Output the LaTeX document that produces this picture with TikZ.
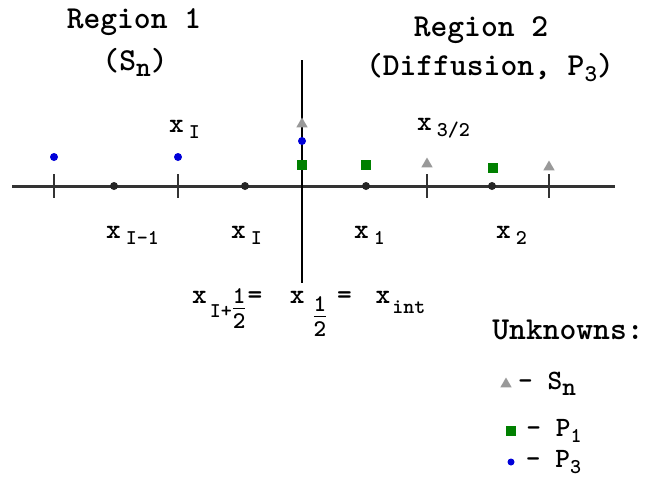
\documentclass[tikz,border=0pt]{standalone}
\usepackage{fontspec}
\usetikzlibrary{positioning}
\usetikzlibrary{shapes.geometric}
\newcommand{\lsub}[3][21]{\raisebox{#2}{\fontsize{#1}{#1}\selectfont #3}}
\newcommand{\half}[1]{\raisebox{#1}{\fontsize{24}{24}\selectfont\shortstack{1\\[1pt]\rule{12pt}{1.3pt}\\[1pt]2}}}

\begin{document}
\begin{tikzpicture}[
    x=1pt, y=-1pt,
    every node/.style={inner sep=0pt},
    headnode/.style={font=\ttfamily\bfseries\fontsize{32}{34}\selectfont},
    labelnode/.style={font=\ttfamily\bfseries\fontsize{28}{30}\selectfont, anchor=base west},
    ticknode/.style={rectangle, fill=black!80, minimum width=2.5pt, minimum height=24pt},
    gridnode/.style={circle, fill=black!85, minimum size=8pt},
    bluenode/.style={circle, fill=blue!85!black, minimum size=8pt},
    greennode/.style={rectangle, fill=green!50!black, minimum size=10pt},
    graynode/.style={regular polygon, regular polygon sides=3, fill=black!40, minimum size=13pt}
]
\useasboundingbox (0,0) rectangle (649,485);
% Region titles
\node[headnode] (reg1) at (134,22) {Region 1};
\node[headnode] (sn1) at (135,62) {(S\lsub[28]{-6pt}{n})};
\node[headnode] (reg2) at (481,30) {Region 2};
\node[headnode] (diff) at (490,68) {(Diffusion, P\lsub[24]{-6pt}{3})};
% Axes
\coordinate (axl) at (12,186);
\coordinate (axr) at (615,186);
\coordinate (vtop) at (302,60);
\coordinate (vbot) at (302,283);
\draw[line width=3pt, black!80] (axl) -- (axr);
\draw[line width=2.5pt] (vtop) -- (vbot);
% Cell edges and centres
\foreach \x/\n in {54/t1, 178/t2, 427/t3, 549/t4}
    \node[ticknode] (\n) at (\x,186) {};
\foreach \x/\n in {114/c1, 245/c2, 366/c3, 492/c4}
    \node[gridnode] (\n) at (\x,186) {};
% Unknowns
\node[bluenode] (b1) at (54,157) {};
\node[bluenode] (b2) at (178,157) {};
\node[bluenode] (b3) at (302,141) {};
\node[graynode] (g1) at (302,124) {};
\node[graynode] (g2) at (427,164) {};
\node[graynode] (g3) at (549,167) {};
\node[greennode] (s1) at (302,165) {};
\node[greennode] (s2) at (366,165) {};
\node[greennode] (s3) at (493,168) {};
% Point labels
\node[labelnode] (xIup) at (169,132) {x\hspace{5pt}\lsub{-6pt}{I}};
\node[labelnode] (x32) at (417,130) {x\hspace{5pt}\lsub{-6pt}{3/2}};
\node[labelnode] (xIm) at (106,238) {x\hspace{5pt}\lsub{-6pt}{I-1}};
\node[labelnode] (xI) at (231,238) {x\hspace{5pt}\lsub{-6pt}{I}};
\node[labelnode] (x1) at (354,238) {x\hspace{5pt}\lsub{-6pt}{1}};
\node[labelnode] (x2) at (496,238) {x\hspace{5pt}\lsub{-6pt}{2}};
% Interface
\node[labelnode] (xint) at (192,303) {x\hspace{3pt}\lsub{-14pt}{I+}\hspace{1pt}\half{-25pt}\hspace{2pt}= \hspace{13pt}x\hspace{9pt}\half{-33pt}\hspace{11pt}= \hspace{9pt}x\hspace{2pt}\lsub{-10pt}{int}};
% Legend
\node[headnode] (unk) at (568,330) {Unknowns:};
\node[graynode] (lg) at (506,384) {};
\node[labelnode, anchor=west, right=8pt of lg] (lgt) {- S\lsub[26]{-6pt}{n}};
\node[greennode] (ls) at (511,431) {};
\node[labelnode, anchor=west, right=10pt of ls] (lst) {- P\lsub{-6pt}{1}};
\node[bluenode, minimum size=7pt] (lb) at (511,462) {};
\node[labelnode, anchor=west, right=11pt of lb] (lbt) {- P\lsub{-6pt}{3}};
\end{tikzpicture}
\end{document}
